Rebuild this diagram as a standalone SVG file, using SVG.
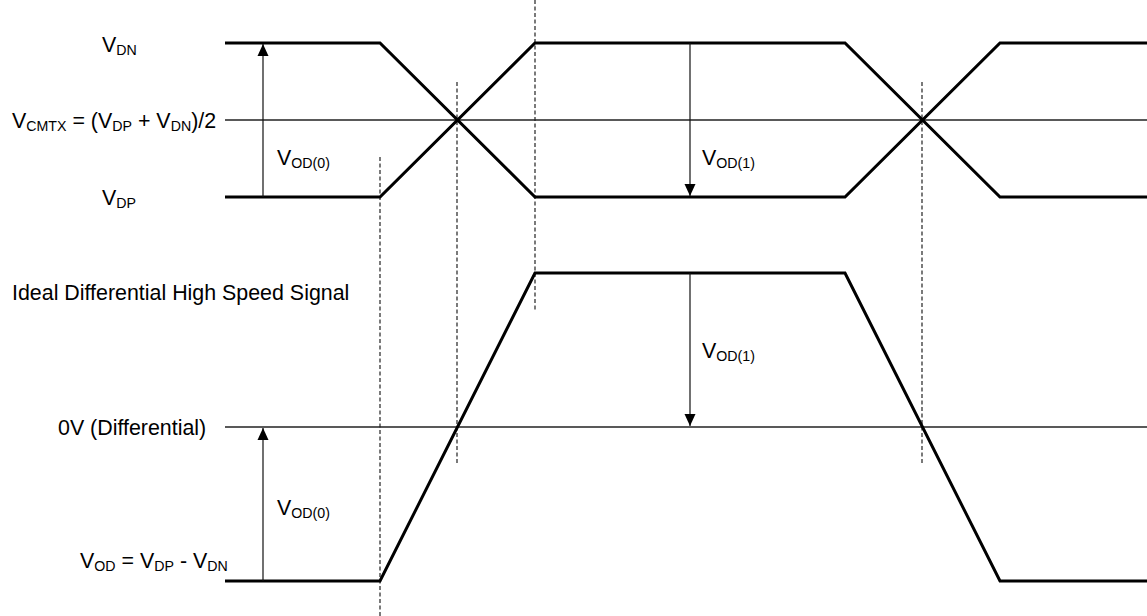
<svg xmlns="http://www.w3.org/2000/svg" width="1147" height="616" viewBox="0 0 1147 616">
<style>
.sig{fill:none;stroke:#000;stroke-width:3;stroke-linejoin:miter}
.ref{fill:none;stroke:#222;stroke-width:1.3}
.dash{fill:none;stroke:#222;stroke-width:1.2;stroke-dasharray:4 2.5}
.arr{fill:none;stroke:#111;stroke-width:1.2}
text{font-family:"Liberation Sans",Arial,sans-serif;font-size:21.4px;fill:#000}
.sub{font-size:14.2px}
</style>
<defs>
<marker id="ah" viewBox="0 0 12 12" refX="12" refY="6" markerWidth="12" markerHeight="12" markerUnits="userSpaceOnUse" orient="auto">
<path d="M0,0.5 L12,6 L0,11.5 Z" fill="#000"/>
</marker>
</defs>
<rect width="1147" height="616" fill="#fff"/>
<g id="guides">
<line class="dash" x1="380" y1="157" x2="380" y2="616"/>
<line class="dash" x1="457" y1="82" x2="457" y2="465"/>
<line class="dash" x1="535" y1="0" x2="535" y2="310"/>
<line class="dash" x1="922" y1="82" x2="922" y2="465"/>
</g>
<g id="reference-lines">
<line class="ref" x1="225" y1="120" x2="1147" y2="120"/>
<line class="ref" x1="225" y1="427" x2="1147" y2="427"/>
</g>
<g id="signal-dn">
<polyline class="sig" points="225,43 380,43 535,197 845,197 1000,43 1147,43"/>
</g>
<g id="signal-dp">
<polyline class="sig" points="225,197 380,197 535,43 845,43 1000,197 1147,197"/>
</g>
<g id="signal-diff">
<polyline class="sig" points="225,581 380,581 535,273 845,273 1000,581 1147,581"/>
</g>
<g id="connectors">
<line class="arr" x1="263" y1="197" x2="263" y2="44" marker-end="url(#ah)"/>
<line class="arr" x1="690" y1="43" x2="690" y2="196" marker-end="url(#ah)"/>
<line class="arr" x1="263" y1="581" x2="263" y2="428" marker-end="url(#ah)"/>
<line class="arr" x1="690" y1="273" x2="690" y2="426" marker-end="url(#ah)"/>
</g>
<g id="labels">
<text x="102" y="52">V<tspan class="sub" dy="3">DN</tspan></text>
<text x="12" y="128">V<tspan class="sub" dy="3">CMTX</tspan><tspan dy="-3"> = (V</tspan><tspan class="sub" dy="3">DP</tspan><tspan dy="-3"> + V</tspan><tspan class="sub" dy="3">DN</tspan><tspan dy="-3">)/2</tspan></text>
<text x="102" y="205">V<tspan class="sub" dy="3">DP</tspan></text>
<text x="277" y="165">V<tspan class="sub" dy="3">OD(0)</tspan></text>
<text x="702" y="165">V<tspan class="sub" dy="3">OD(1)</tspan></text>
<text x="12" y="300">Ideal Differential High Speed Signal</text>
<text x="702" y="358">V<tspan class="sub" dy="3">OD(1)</tspan></text>
<text x="58" y="435">0V (Differential)</text>
<text x="277" y="515">V<tspan class="sub" dy="3">OD(0)</tspan></text>
<text x="80" y="568">V<tspan class="sub" dy="3">OD</tspan><tspan dy="-3"> = V</tspan><tspan class="sub" dy="3">DP</tspan><tspan dy="-3"> - V</tspan><tspan class="sub" dy="3">DN</tspan></text>
</g>
</svg>
